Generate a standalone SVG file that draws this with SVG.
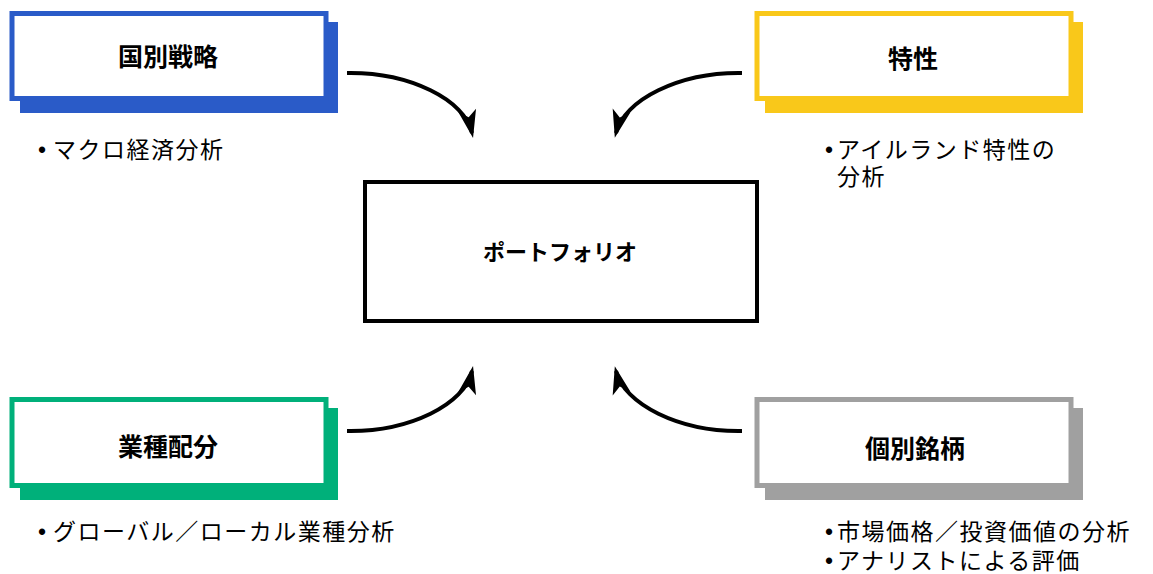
<svg xmlns="http://www.w3.org/2000/svg" width="1153" height="574" viewBox="0 0 1153 574">
<style>
.lbl{font-family:"Noto Sans CJK JP","Noto Sans",sans-serif;font-weight:bold;font-size:25px;fill:#000;text-anchor:middle;dominant-baseline:central}
.ctr{font-family:"Noto Sans CJK JP","Noto Sans",sans-serif;font-weight:bold;font-size:22px;fill:#000;text-anchor:middle;dominant-baseline:central}
.txt{font-family:"Liberation Sans","Noto Sans CJK JP",sans-serif;font-size:23px;letter-spacing:1.5px;fill:#000;dominant-baseline:central}
.box{fill:#fff;stroke-width:5}
.arrow{fill:none;stroke:#000;stroke-width:4;marker-end:url(#ah)}
</style>
<defs>
<marker id="ah" markerUnits="userSpaceOnUse" markerWidth="40" markerHeight="30" viewBox="-30 -15 40 30" refX="0" refY="0" orient="auto">
<path d="M5,0 L-23,-9 L-16,0 L-23,9 Z" fill="#000"/>
</marker>
</defs>
<g id="connectors">
<path class="arrow" d="M347,73 C410,72 465,100 472,133"/>
<path class="arrow" d="M742,73 C679,72 624,100 616,133"/>
<path class="arrow" d="M347,431 C410,432 465,404 472,371"/>
<path class="arrow" d="M742,431 C679,432 624,404 616,371"/>
</g>
<g id="node-kunibetsu">
<rect x="20" y="22" width="318" height="91" fill="#2a5bc8"/>
<rect class="box" x="12" y="13.5" width="314" height="85" stroke="#2a5bc8"/>
<text class="lbl" x="168" y="55">国別戦略</text>
<text class="txt" x="38" y="150"><tspan>•</tspan><tspan x="53">マクロ経済分析</tspan></text>
</g>
<g id="node-tokusei">
<rect x="765" y="22" width="318" height="91" fill="#f9c81a"/>
<rect class="box" x="757" y="13.5" width="314" height="85" stroke="#f9c81a"/>
<text class="lbl" x="913" y="57">特性</text>
<text class="txt" x="825" y="150"><tspan>•</tspan><tspan x="837">アイルランド特性の</tspan></text>
<text class="txt" x="837" y="177">分析</text>
</g>
<g id="node-portfolio">
<rect x="365" y="182" width="392" height="139" fill="#fff" stroke="#000" stroke-width="4"/>
<text class="ctr" x="560" y="250">ポートフォリオ</text>
</g>
<g id="node-gyoshu">
<rect x="20" y="408" width="318" height="92" fill="#00b07a"/>
<rect class="box" x="12" y="399.5" width="314" height="86" stroke="#00b07a"/>
<text class="lbl" x="168" y="445">業種配分</text>
<text class="txt" x="38" y="532"><tspan>•</tspan><tspan x="53">グローバル／ローカル業種分析</tspan></text>
</g>
<g id="node-kobetsu">
<rect x="765" y="408" width="318" height="92" fill="#a0a0a0"/>
<rect class="box" x="757" y="399.5" width="314" height="86" stroke="#a0a0a0"/>
<text class="lbl" x="915" y="447">個別銘柄</text>
<text class="txt" x="825" y="532"><tspan>•</tspan><tspan x="837">市場価格／投資価値の分析</tspan></text>
<text class="txt" x="825" y="561"><tspan>•</tspan><tspan x="837">アナリストによる評価</tspan></text>
</g>
</svg>
